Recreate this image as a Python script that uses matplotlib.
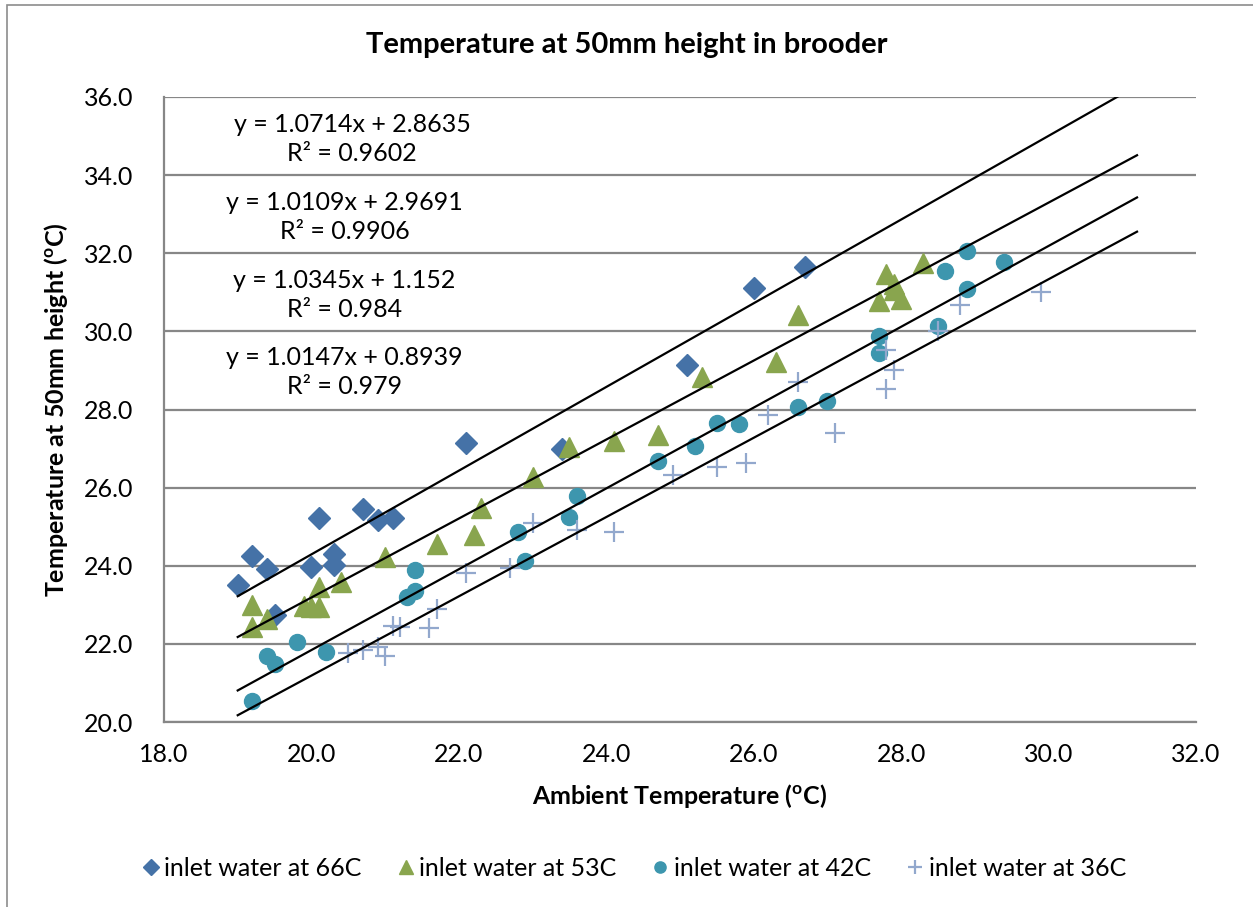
import numpy as np
import matplotlib
matplotlib.use("Agg")
import matplotlib.pyplot as plt
from matplotlib.patches import Rectangle

plt.rcParams['font.family'] = ['Lato', 'DejaVu Sans']
plt.rcParams['mathtext.fontset'] = 'custom'
plt.rcParams['mathtext.rm'] = 'Lato'
plt.rcParams['mathtext.bf'] = 'Lato:bold'

# data
x66 = [19.0, 19.2, 19.4, 19.5, 20.0, 20.1, 20.3, 20.3, 20.7, 20.9, 21.1, 22.1, 23.4, 25.1, 26.0, 26.7]
y66 = [23.5, 24.26, 23.91, 22.74, 23.98, 25.21, 24.30, 24.02, 25.45, 25.17, 25.21, 27.15, 26.99, 29.14, 31.12, 31.64]

x53 = [19.2, 19.2, 19.4, 19.9, 20.0, 20.1, 20.1, 20.4, 21.0, 21.7, 22.2, 22.3, 23.0, 23.5, 24.1, 24.7,
       25.3, 26.3, 26.6, 27.7, 27.8, 27.9, 27.9, 28.0, 28.3]
y53 = [23.0, 22.44, 22.63, 22.97, 22.94, 22.95, 23.46, 23.59, 24.23, 24.56, 24.79, 25.47, 26.26, 27.05,
       27.2, 27.35, 28.82, 29.22, 30.42, 30.78, 31.46, 31.22, 31.05, 30.82, 31.74]

x42 = [19.2, 19.4, 19.5, 19.8, 20.2, 21.3, 21.4, 21.4, 22.8, 22.9, 23.5, 23.6, 24.7, 25.2, 25.5,
       25.8, 26.6, 27.0, 27.7, 27.7, 28.5, 28.6, 28.9, 28.9, 29.4]
y42 = [20.55, 21.69, 21.48, 22.06, 21.80, 23.19, 23.36, 23.89, 24.87, 24.12, 25.25, 25.79, 26.69,
       27.07, 27.66, 27.62, 28.07, 28.23, 29.88, 29.44, 30.15, 31.55, 32.07, 31.09, 31.77]

x36 = [20.5, 20.7, 20.9, 21.0, 21.1, 21.2, 21.6, 21.7, 22.1, 22.7, 23.0, 23.6, 24.1, 24.9, 25.5,
       25.9, 26.2, 26.6, 27.1, 27.8, 27.9, 27.8, 28.5, 28.8, 29.9]
y36 = [21.77, 21.84, 21.93, 21.69, 22.46, 22.44, 22.40, 22.89, 23.82, 23.95, 25.09, 24.92, 24.87,
       26.32, 26.52, 26.64, 27.86, 28.71, 27.41, 29.52, 29.01, 28.52, 30.02, 30.68, 31.01]

labels = ['inlet water at 66C', 'inlet water at 53C', 'inlet water at 42C', 'inlet water at 36C']
slopes = [1.0714, 1.0109, 1.0345, 1.0147]
intercepts = [2.8635, 2.9691, 1.152, 0.8939]
eq_text = ['y = 1.0714x + 2.8635\nR\u00b2 = 0.9602',
           'y = 1.0109x + 2.9691\nR\u00b2 = 0.9906',
           'y = 1.0345x + 1.152\nR\u00b2 = 0.984',
           'y = 1.0147x + 0.8939\nR\u00b2 = 0.979']
eq_pos = [(20.55, 34.93), (20.45, 32.93), (20.45, 30.93), (20.45, 28.96)]
trend_x = [19.0, 31.2]

fs = 18

fig = plt.figure(figsize=(12.53, 9.07), dpi=100)
fig.patches.append(Rectangle((7 / 1253, -0.1), 1.2, 1 - 5 / 907 + 0.1, transform=fig.transFigure,
                             fill=False, edgecolor='#8c8c8c', lw=1.2))
ax = fig.add_axes([164 / 1253, 1 - 722 / 907, (1196 - 164) / 1253, (722 - 97) / 907])

gray = '#878787'
ax.set_xlim(18, 32)
ax.set_ylim(20, 36)
ax.set_xticks(np.arange(18, 33, 2))
ax.set_yticks(np.arange(20, 37, 2))
ax.xaxis.set_major_formatter(plt.FormatStrFormatter('%.1f'))
ax.yaxis.set_major_formatter(plt.FormatStrFormatter('%.1f'))
ax.tick_params(length=0, labelsize=fs)
ax.tick_params(axis='x', pad=15)
ax.tick_params(axis='y', pad=22)
ax.yaxis.grid(True, color=gray, lw=1.6)
ax.set_axisbelow(True)
for s in ['top', 'right']:
    ax.spines[s].set_visible(False)
for s in ['left', 'bottom']:
    ax.spines[s].set_color(gray)
    ax.spines[s].set_linewidth(1.6)

ax.plot(x66, y66, 'D', ms=11, color='#4572A7', label=labels[0], ls='none')
ax.plot(x53, y53, '^', ms=14, color='#89A54E', label=labels[1], ls='none')
ax.plot(x42, y42, 'o', ms=11.5, color='#3D96AE', label=labels[2], ls='none')
ax.plot(x36, y36, '+', ms=14, mew=1.6, color='#92A8CD', label=labels[3], ls='none')

tx = np.array(trend_x)
for m, b in zip(slopes, intercepts):
    ax.plot(tx, m * tx + b, color='black', lw=1.6)

for t, (px, py) in zip(eq_text, eq_pos):
    ax.text(px, py, t, ha='center', va='center', fontsize=fs, linespacing=1.3)

# chart title is centred on the whole chart area, not the plot
fig.text(0.5, 1 - 45 / 907, 'Temperature at 50mm height in brooder', fontsize=21, fontweight='bold',
         ha='center', va='center')
ax.set_xlabel(r'Ambient Temperature ($\mathbf{^o}$C)', fontsize=fs, fontweight='bold', labelpad=12)
ax.set_ylabel(r'Temperature at 50mm height ($\mathbf{^o}$C)', fontsize=fs, fontweight='bold', labelpad=10)

leg = ax.legend(loc='center', bbox_to_anchor=(0.456, -0.234), ncol=4, frameon=False, fontsize=fs,
                markerscale=0.7, handlelength=0.6, handletextpad=0.25, columnspacing=1.45)

fig.savefig('out.png', dpi=100)
